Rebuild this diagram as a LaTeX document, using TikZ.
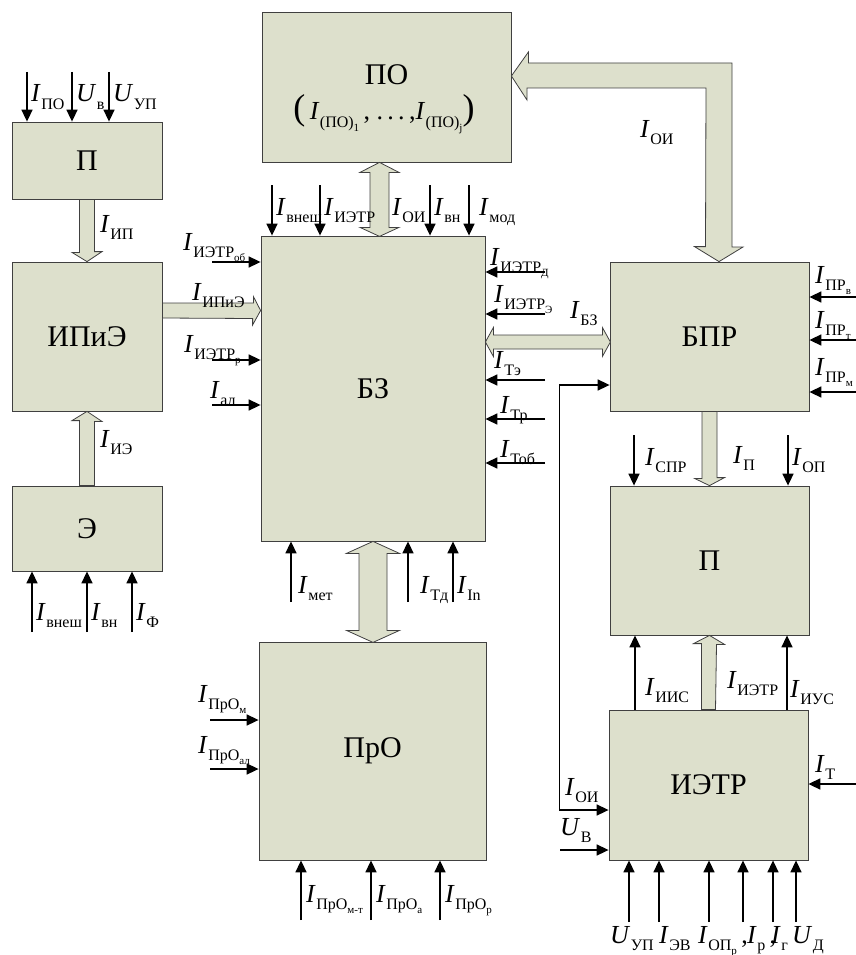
\documentclass[tikz,border=0pt]{standalone}
\usepackage{fontspec}
\setmainfont{Liberation Serif}
\usetikzlibrary{arrows.meta,calc}

\definecolor{boxfill}{RGB}{221,224,204}
\definecolor{boxline}{RGB}{64,64,64}

% I with subscript, and second level subscript
\newcommand{\Sym}[2]{\textit{#1}\kern0.5pt\raisebox{-0.28em}{\fontsize{16}{16}\selectfont #2}}
\newcommand{\Sub}[1]{\raisebox{-0.25em}{\fontsize{11}{11}\selectfont #1}}
\newcommand{\BigPar}[1]{{\fontsize{36}{36}\selectfont #1}}

\tikzset{
  block/.style={draw=boxline, fill=boxfill, line width=0.8pt, inner sep=0pt,
    font=\fontsize{30}{30}\selectfont},
  hollow/.style={draw=boxline, fill=boxfill, line width=0.8pt, line join=miter},
  sig/.style={line width=1.6pt, -{Triangle[length=12pt,width=11pt]}},
  sigboth/.style={line width=1.6pt, {Triangle[length=12pt,width=11pt]}-{Triangle[length=12pt,width=11pt]}},
  lbl/.style={anchor=base west, inner sep=0pt, font=\fontsize{26}{26}\selectfont},
}

\begin{document}
\begin{tikzpicture}[x=1pt, y=-1pt]
  \useasboundingbox (0,0) rectangle (856,955);

  % blocks
  \node[block, minimum width=150pt, minimum height=77pt]  (pleft)  at (87,160.5)   {П};
  \node[block, minimum width=150pt, minimum height=149pt] (ipie)   at (87,336.5)   {ИПиЭ};
  \node[block, minimum width=150pt, minimum height=85pt]  (ee)     at (87,528.5)   {Э};
  \node[block, minimum width=249pt, minimum height=150pt] (po)     at (386.5,87)   {};
  \node[block, minimum width=224pt, minimum height=305pt] (bz)     at (373,388.5)  {БЗ};
  \node[block, minimum width=227pt, minimum height=218pt] (pro)    at (372.5,751)  {ПрО};
  \node[block, minimum width=199pt, minimum height=149pt] (bpr)    at (709.5,336.5) {БПР};
  \node[block, minimum width=199pt, minimum height=149pt] (pright) at (709.5,560.5) {П};
  \node[block, minimum width=199pt, minimum height=150pt] (ietr)   at (708.5,785)  {ИЭТР};

  \node[font=\fontsize{30}{30}\selectfont, inner sep=0pt] (potitle) at (386.5,75) {ПО};
  \node[lbl, anchor=base] (poform) at (384,120)
    {\BigPar{(}\,\Sym{I}{(ПО)\Sub{1}}\,, .\,.\,.\,,\Sym{I}{(ПО)\Sub{j}}\BigPar{)}};

  % hollow arrows
  \draw[hollow] ([xshift=-7.5pt]pleft.south) -- ++(0,53) -- ++(-7.5,0) -- (ipie.north)
    -- ++(15,-10) -- ++(-7.5,0) -- ([xshift=7.5pt]pleft.south) -- cycle;
  \draw[hollow] ([xshift=-7.5pt]ee.north) -- ++(0,-65) -- ++(-7.5,0) -- (ipie.south)
    -- ++(15,10) -- ++(-7.5,0) -- ([xshift=7.5pt]ee.north) -- cycle;
  \draw[hollow] ([yshift=33.5pt]ipie.east) -- ++(91,0) -- ++(0,-6.5) -- ([yshift=78pt]bz.west)
    -- ++(-8,14.5) -- ++(0,-6.5) -- ([yshift=18.5pt]ipie.east) -- cycle;
  \draw[hollow] ([xshift=-7pt]po.south) -- ++(19.5,10) -- ++(-10,0) -- ++(0,55) -- ++(10,0)
    -- ++(-19.5,9) -- ++(-19.5,-9) -- ++(10,0) -- ++(0,-55) -- ++(-10,0) -- cycle;
  \draw[hollow] (bz.south) -- ++(26.5,12) -- ++(-12.5,0) -- ++(0,77) -- ++(12.5,0)
    -- ++(-26.5,12) -- ++(-26.5,-12) -- ++(12.5,0) -- ++(0,-77) -- ++(-12.5,0) -- cycle;
  \draw[hollow] ([yshift=46.5pt]bz.east) -- ++(8,-14.5) -- ++(0,7.5) -- ++(109,0) -- ++(0,-7.5)
    -- ++(8,14.5) -- ++(-8,14.5) -- ++(0,-7.5) -- ++(-109,0) -- ++(0,7.5) -- cycle;
  \draw[hollow] ([yshift=11pt]po.east) -- ++(17,-24) -- ++(0,11) -- (732,63) -- (732,247)
    -- ++(11,0) -- ([xshift=9.5pt]bpr.north) -- ++(-24.5,-15) -- ++(11,0) -- (706,88)
    -- (527,88) -- ++(0,12) -- cycle;
  \draw[hollow] ([xshift=-7.5pt]bpr.south) -- ++(0,67) -- ++(-7.5,0) -- (pright.north)
    -- ++(15,-8) -- ++(-7.5,0) -- ([xshift=7.5pt]bpr.south) -- cycle;
  \draw[hollow] ([xshift=-7pt]ietr.north) -- ++(0,-66) -- ++(-8,0) -- (pright.south)
    -- ++(15,9) -- ++(-8,0) -- ([xshift=7pt]ietr.north) -- cycle;

  % inputs of the left blocks
  \foreach \x/\t [count=\i] in {27/{\Sym{I}{ПО}}, 72/{\Sym{U}{в}}, 109/{\Sym{U}{УП}}} {
    \draw[sig] (\x,72) -- (\x,72 |- pleft.north);
    \node[lbl] (lp\i) at (\x+4,102) {\t};
  }
  \node[lbl] (lip) at (100,232) {\Sym{I}{ИП}};
  \node[lbl] (lie) at (100,447) {\Sym{I}{ИЭ}};
  \foreach \x/\t [count=\i] in {32/{\Sym{I}{внеш}}, 87/{\Sym{I}{вн}}, 132/{\Sym{I}{Ф}}} {
    \draw[sig] (\x,632) -- (\x,632 |- ee.south);
    \node[lbl] (le\i) at (\x+4,620) {\t};
  }

  % inputs of БЗ
  \foreach \y/\xl/\yl/\t [count=\i] in {262/183/250/{\Sym{I}{ИЭТР\Sub{об}}},
      360/184/352/{\Sym{I}{ИЭТР\Sub{р}}}, 405/210/398/{\Sym{I}{ал}}} {
    \draw[sig] (212,\y) -- (212,\y -| bz.west);
    \node[lbl] (lbw\i) at (\xl,\yl) {\t};
  }
  \node[lbl] (lipie) at (192,300) {\Sym{I}{ИПиЭ}};
  \foreach \x/\xl/\t [count=\i] in {272/276/{\Sym{I}{внеш}}, 320/324/{\Sym{I}{ИЭТР}},
      430/434/{\Sym{I}{вн}}, 469/479/{\Sym{I}{мод}}} {
    \draw[sig] (\x,185) -- (\x,185 |- bz.north);
    \node[lbl] (lbn\i) at (\xl,215) {\t};
  }
  \node[lbl] (lbnoi) at (392,215) {\Sym{I}{ОИ}};
  \foreach \y/\xl/\yl/\t [count=\i] in {272/490/265/{\Sym{I}{ИЭТР\Sub{Д}}},
      314/494/302/{\Sym{I}{ИЭТР\Sub{Э}}}, 380/494/368/{\Sym{I}{Тэ}},
      419/500/413/{\Sym{I}{Тр}}, 463/500/457/{\Sym{I}{Тоб}}} {
    \draw[sig] (545,\y) -- (545,\y -| bz.east);
    \node[lbl] (lbe\i) at (\xl,\yl) {\t};
  }
  \node[lbl] (lbz) at (570,318) {\Sym{I}{БЗ}};
  \foreach \x/\xl/\t [count=\i] in {291/298/{\Sym{I}{мет}}, 408/420/{\Sym{I}{Тд}},
      453/457/{\Sym{I}{In}}} {
    \draw[sig] (\x,602) -- (\x,602 |- bz.south);
    \node[lbl] (lbs\i) at (\xl,593) {\t};
  }

  % inputs of ПрО
  \foreach \y/\yl/\t [count=\i] in {720/702/{\Sym{I}{ПрО\Sub{м}}}, 769/753/{\Sym{I}{ПрО\Sub{ал}}}} {
    \draw[sig] (210,\y) -- (210,\y -| pro.west);
    \node[lbl] (lpw\i) at (198,\yl) {\t};
  }
  \foreach \x/\t [count=\i] in {301/{\Sym{I}{ПрО\Sub{м-т}}}, 371/{\Sym{I}{ПрО\Sub{а}}},
      440/{\Sym{I}{ПрО\Sub{р}}}} {
    \draw[sig] (\x,920) -- (\x,920 |- pro.south);
    \node[lbl] (lps\i) at (\x+5,902) {\t};
  }

  % inputs of БПР
  \foreach \y/\yl/\t [count=\i] in {297/283/{\Sym{I}{ПР\Sub{в}}}, 340/328/{\Sym{I}{ПР\Sub{т}}},
      392/375/{\Sym{I}{ПР\Sub{м}}}} {
    \draw[sig] (856,\y) -- (856,\y -| bpr.east);
    \node[lbl] (lbr\i) at (815,\yl) {\t};
  }
  \node[lbl] (loi) at (640,137) {\Sym{I}{ОИ}};

  % inputs of П (right)
  \foreach \x in {634,788}
    \draw[sig] (\x,435) -- (\x,435 |- pright.north);
  \node[lbl] (lpr1) at (645,465) {\Sym{I}{СПР}};
  \node[lbl] (lpr2) at (733,463) {\Sym{I}{П}};
  \node[lbl] (lpr3) at (792,465) {\Sym{I}{ОП}};
  \foreach \x in {635,787}
    \draw[sig] (\x,0 |- ietr.north) -- (\x,0 |- pright.south);
  \node[lbl] (lit1) at (645,695) {\Sym{I}{ИИС}};
  \node[lbl] (lit2) at (727,688) {\Sym{I}{ИЭТР}};
  \node[lbl] (lit3) at (790,697) {\Sym{I}{ИУС}};

  % inputs of ИЭТР
  \draw[sig] (856,784) -- (856,784 -| ietr.east);
  \node[lbl] (lt) at (815,772) {\Sym{I}{Т}};
  \draw[sigboth] ([yshift=-48.5pt]bpr.west) -- ++(-50,0) |- ([yshift=-25pt]ietr.west);
  \node[lbl] (loi2) at (565,795) {\Sym{I}{ОИ}};
  \draw[sig] (560,850) -- (560,850 -| ietr.west);
  \node[lbl] (luv) at (560,835) {\Sym{U}{В}};
  \foreach \x in {629,659,709,743,773,796}
    \draw[sig] (\x,922) -- (\x,922 |- ietr.south);
  \node[lbl] (lb1) at (610,943) {\Sym{U}{УП}};
  \node[lbl] (lb2) at (659,943) {\Sym{I}{ЭВ}};
  \node[lbl] (lb3) at (698,943) {\Sym{I}{ОП\Sub{р}}\,,};
  \node[lbl] (lb4) at (747,943) {\Sym{I}{р}\,,};
  \node[lbl] (lb5) at (771,943) {\Sym{I}{г}};
  \node[lbl] (lb6) at (792,943) {\Sym{U}{Д}};
\end{tikzpicture}
\end{document}
